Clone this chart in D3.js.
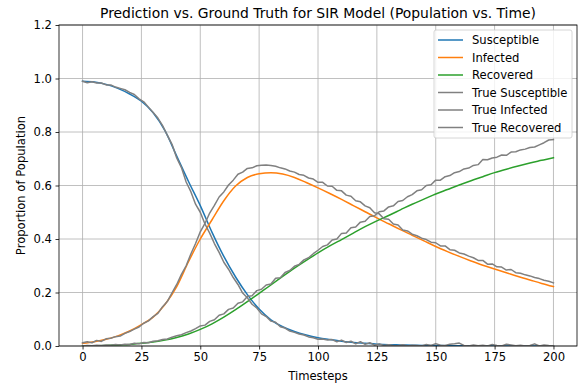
<!DOCTYPE html>
<html><head><meta charset="utf-8">
<script src="https://cdn.jsdelivr.net/npm/d3@7"></script>
<style>
body{margin:0;background:#fff;}
text{font-family:"DejaVu Sans",sans-serif;fill:#000;}
</style></head>
<body><svg id="c" width="581" height="385"></svg>
<script>
// predicted curves, timesteps 0..200 every 5
const predT = d3.range(0, 201, 5);
const predS = [0.990,0.987,0.978,0.963,0.942,0.915,0.872,0.805,0.710,0.615,0.525,0.425,0.335,0.258,0.192,0.138,0.098,0.072,0.054,0.041,0.031,0.024,0.018,0.013,0.010,0.007,0.005,0.004,0.003,0.002,0.002,0.001,0.001,0.001,0.001,0.000,0.000,0.000,0.000,0.000,0.000];
const predI = [0.010,0.016,0.025,0.038,0.056,0.080,0.108,0.155,0.222,0.315,0.400,0.472,0.543,0.598,0.630,0.644,0.648,0.643,0.630,0.611,0.591,0.570,0.548,0.525,0.502,0.479,0.457,0.435,0.414,0.393,0.372,0.353,0.335,0.318,0.302,0.288,0.274,0.260,0.247,0.234,0.222];
const predR = [0.000,0.001,0.002,0.004,0.006,0.010,0.015,0.022,0.032,0.045,0.062,0.083,0.108,0.136,0.166,0.197,0.228,0.260,0.291,0.320,0.348,0.374,0.398,0.422,0.446,0.468,0.488,0.509,0.530,0.549,0.568,0.585,0.602,0.618,0.633,0.648,0.661,0.673,0.684,0.694,0.704];
// ground truth, timesteps 0..200 every 2
const trueT = d3.range(0, 201, 2);
const trueS = [0.990,0.984,0.988,0.983,0.983,0.976,0.976,0.968,0.963,0.958,0.948,0.940,0.924,0.913,0.893,0.873,0.852,0.824,0.788,0.754,0.703,0.667,0.613,0.577,0.530,0.500,0.456,0.422,0.383,0.350,0.313,0.287,0.256,0.230,0.198,0.180,0.156,0.142,0.120,0.110,0.093,0.089,0.072,0.067,0.056,0.051,0.045,0.041,0.034,0.031,0.025,0.026,0.022,0.024,0.016,0.022,0.013,0.018,0.008,0.016,0.006,0.012,0.003,0.008,0.002,0.005,0.002,0.001,0.005,0.000,0.003,0.002,0.000,0.006,0.002,0.009,0.003,0.002,0.007,0.008,0.011,0.002,0.000,0.004,0.001,0.003,0.000,0.006,0.002,0.000,0.007,0.004,0.001,0.003,0.000,0.002,0.008,0.000,0.004,0.002,0.001];
const trueI = [0.012,0.016,0.012,0.021,0.017,0.027,0.029,0.035,0.037,0.047,0.054,0.063,0.071,0.085,0.094,0.110,0.122,0.147,0.166,0.199,0.230,0.268,0.300,0.344,0.383,0.427,0.458,0.497,0.526,0.557,0.576,0.602,0.620,0.642,0.650,0.664,0.666,0.674,0.676,0.677,0.675,0.672,0.666,0.662,0.654,0.650,0.641,0.638,0.628,0.624,0.612,0.612,0.598,0.597,0.582,0.580,0.564,0.560,0.543,0.539,0.524,0.517,0.498,0.494,0.476,0.474,0.456,0.452,0.434,0.430,0.418,0.412,0.403,0.398,0.388,0.386,0.374,0.374,0.360,0.358,0.348,0.344,0.336,0.330,0.320,0.320,0.306,0.307,0.296,0.295,0.284,0.286,0.274,0.272,0.266,0.262,0.256,0.252,0.246,0.242,0.236];
const trueR = [0.000,0.002,0.001,0.003,0.002,0.004,0.003,0.006,0.004,0.007,0.006,0.010,0.008,0.013,0.012,0.018,0.020,0.024,0.026,0.033,0.038,0.042,0.050,0.056,0.065,0.075,0.078,0.092,0.098,0.115,0.120,0.137,0.142,0.160,0.165,0.185,0.188,0.207,0.212,0.228,0.232,0.253,0.255,0.275,0.282,0.298,0.305,0.322,0.330,0.345,0.358,0.372,0.378,0.396,0.400,0.421,0.422,0.442,0.445,0.463,0.466,0.484,0.487,0.502,0.505,0.520,0.524,0.540,0.544,0.558,0.566,0.580,0.584,0.600,0.603,0.620,0.620,0.633,0.637,0.648,0.652,0.662,0.665,0.675,0.678,0.697,0.696,0.703,0.706,0.714,0.713,0.725,0.726,0.733,0.736,0.742,0.744,0.752,0.760,0.770,0.772];
const xTicks = [0,25,50,75,100,125,150,175,200];
const yTicks = [0,0.2,0.4,0.6,0.8,1.0,1.2];
const series = [
  {name:"Susceptible", t:predT, v:predS, color:"#1f77b4", smooth:true},
  {name:"Infected", t:predT, v:predI, color:"#ff7f0e", smooth:true},
  {name:"Recovered", t:predT, v:predR, color:"#2ca02c", smooth:true},
  {name:"True Susceptible", t:trueT, v:trueS, color:"#808080", smooth:false},
  {name:"True Infected", t:trueT, v:trueI, color:"#808080", smooth:false},
  {name:"True Recovered", t:trueT, v:trueR, color:"#808080", smooth:false}
];

const L=59, R=577, T=25, B=346;
const FS=11.6;
const svg = d3.select("#c");
const x = d3.scaleLinear().domain([-10,210]).range([L,R]);
const y = d3.scaleLinear().domain([0,1.2]).range([B,T]);

// grid
svg.append("g").selectAll("line").data(xTicks).join("line")
  .attr("x1",d=>x(d)).attr("x2",d=>x(d)).attr("y1",T).attr("y2",B)
  .attr("stroke","#b0b0b0").attr("stroke-width",0.8);
svg.append("g").selectAll("line").data(yTicks).join("line")
  .attr("y1",d=>y(d)).attr("y2",d=>y(d)).attr("x1",L).attr("x2",R)
  .attr("stroke","#b0b0b0").attr("stroke-width",0.8);

// lines
svg.append("clipPath").attr("id","cp").append("rect").attr("x",L).attr("y",T).attr("width",R-L).attr("height",B-T);
const lg = svg.append("g").attr("clip-path","url(#cp)");
series.forEach(s=>{
  const line = d3.line().x((d,i)=>x(s.t[i])).y(d=>y(d)).curve(s.smooth?d3.curveMonotoneX:d3.curveLinear);
  lg.append("path").datum(s.v).attr("d",line).attr("fill","none")
    .attr("stroke",s.color).attr("stroke-width",1.5).attr("stroke-linejoin","round").attr("stroke-linecap","square");
});

// axes
const xa = svg.append("g").attr("transform",`translate(0,${B})`)
  .call(d3.axisBottom(x).tickValues(xTicks).tickSize(3.5).tickPadding(3.5).tickFormat(d3.format("d")));
const ya = svg.append("g").attr("transform",`translate(${L},0)`)
  .call(d3.axisLeft(y).tickValues(yTicks).tickSize(3.5).tickPadding(3.5).tickFormat(d3.format(".1f")));
[xa,ya].forEach(a=>{
  a.select(".domain").remove();
  a.selectAll("line").attr("stroke","#000").attr("stroke-width",0.8);
  a.selectAll("text").attr("font-size",FS).attr("font-family","DejaVu Sans").attr("fill","#000");
});
svg.append("rect").attr("x",L).attr("y",T).attr("width",R-L).attr("height",B-T)
  .attr("fill","none").attr("stroke","#000").attr("stroke-width",0.8);

// labels
svg.append("text").attr("x",(L+R)/2).attr("y",18).attr("text-anchor","middle").attr("font-size",13.9)
  .text("Prediction vs. Ground Truth for SIR Model (Population vs. Time)");
svg.append("text").attr("x",(L+R)/2).attr("y",380).attr("text-anchor","middle").attr("font-size",FS).text("Timesteps");
svg.append("text").attr("transform",`translate(25,${(T+B)/2}) rotate(-90)`).attr("text-anchor","middle").attr("font-size",FS).text("Proportion of Population");

// legend
const lx=434, ly=30, lw=138, lh=108;
const leg = svg.append("g");
leg.append("rect").attr("x",lx).attr("y",ly).attr("width",lw).attr("height",lh).attr("rx",2)
  .attr("fill","#fff").attr("fill-opacity",0.8).attr("stroke","#cccccc").attr("stroke-width",0.8);
series.forEach((s,i)=>{
  const yy = 40 + i*17.5;
  leg.append("line").attr("x1",438).attr("x2",463).attr("y1",yy).attr("y2",yy).attr("stroke",s.color).attr("stroke-width",1.5);
  leg.append("text").attr("x",472).attr("y",yy).attr("dy","0.35em").attr("font-size",FS).text(s.name);
});
</script></body></html>
